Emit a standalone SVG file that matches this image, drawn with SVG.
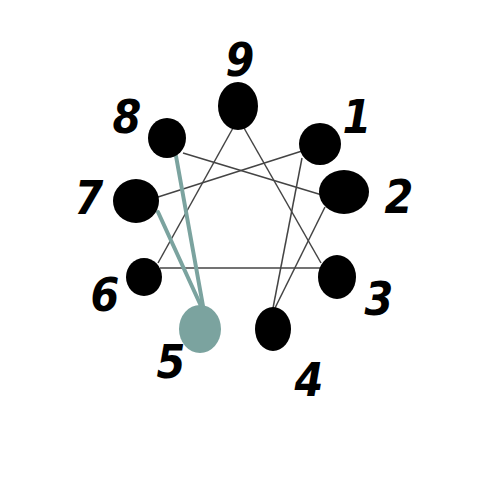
<svg xmlns="http://www.w3.org/2000/svg" width="500" height="500" viewBox="0 0 500 500">
<style>
.lbl{font-family:"DejaVu Sans Condensed","DejaVu Sans","Liberation Sans",sans-serif;font-stretch:condensed;font-weight:bold;font-style:italic;font-size:46px;fill:#000;text-anchor:middle}
.ln{stroke:#444;stroke-width:1.5;fill:none}
.tl{stroke:#7ba39f;stroke-width:4;fill:none;stroke-linecap:round}
.nd{fill:#000}
</style>
<rect width="500" height="500" fill="#fff"/>
<g id="connectors">
<line class="ln" x1="233" y1="128" x2="158" y2="263"/>
<line class="ln" x1="244" y1="128" x2="321" y2="263"/>
<line class="ln" x1="160" y1="268" x2="321" y2="268"/>
<line class="ln" x1="183" y1="153" x2="322" y2="195"/>
<line class="ln" x1="158" y1="197" x2="302" y2="151"/>
<line class="ln" x1="302" y1="158" x2="273" y2="308"/>
<line class="ln" x1="325" y1="207" x2="275" y2="308"/>
<line class="tl" x1="176" y1="156" x2="203" y2="306"/>
<line class="tl" x1="158" y1="212" x2="201" y2="306"/>
</g>
<g id="n9"><ellipse class="nd" cx="238" cy="106" rx="20" ry="24"/><text class="lbl" x="240" y="76">9</text></g>
<g id="n8"><ellipse class="nd" cx="167" cy="138" rx="19" ry="20"/><text class="lbl" x="127" y="133">8</text></g>
<g id="n1"><ellipse class="nd" cx="320" cy="144" rx="21" ry="21"/><text class="lbl" x="357" y="133">1</text></g>
<g id="n2"><ellipse class="nd" cx="344" cy="192" rx="25" ry="22"/><text class="lbl" x="399" y="213">2</text></g>
<g id="n7"><ellipse class="nd" cx="136" cy="201" rx="23" ry="22"/><text class="lbl" x="89" y="214">7</text></g>
<g id="n6"><ellipse class="nd" cx="144" cy="277" rx="18" ry="19"/><text class="lbl" x="105" y="311">6</text></g>
<g id="n3"><ellipse class="nd" cx="337" cy="277" rx="19" ry="22"/><text class="lbl" x="379" y="315">3</text></g>
<g id="n5"><ellipse cx="200" cy="329" rx="21" ry="24" fill="#7ba39f"/><text class="lbl" x="171" y="378">5</text></g>
<g id="n4"><ellipse class="nd" cx="273" cy="329" rx="18" ry="22"/><text class="lbl" x="309" y="396">4</text></g>
</svg>
